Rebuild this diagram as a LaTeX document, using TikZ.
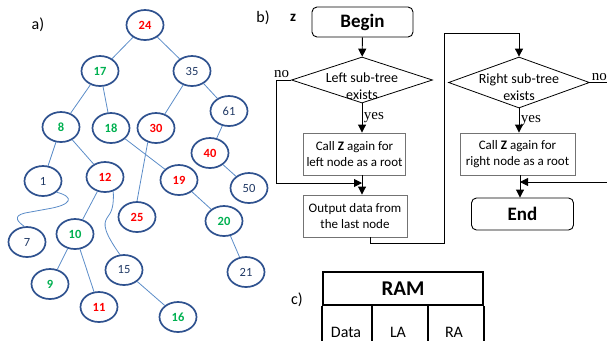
\documentclass[tikz,border=0pt]{standalone}
\usepackage{fontspec}
\setmainfont{Carlito}
\newfontfamily\yesnofont{Liberation Serif}
\usetikzlibrary{shapes.geometric, arrows.meta}
\definecolor{ringblue}{RGB}{47,82,143}
\definecolor{edgeblue}{RGB}{91,140,200}
\definecolor{numblue}{RGB}{31,56,100}
\definecolor{numgreen}{RGB}{0,176,80}
\definecolor{numred}{RGB}{255,0,0}

\begin{document}
\begin{tikzpicture}[x=1pt, y=-1pt, >={Triangle[length=8pt, width=8pt]},
    vertex/.style={ellipse, draw=ringblue, line width=1.7pt, minimum width=37pt, minimum height=30pt, inner sep=0pt, font=\fontsize{12.5}{14}\selectfont},
    rv/.style={vertex, text=numred, font=\fontsize{12.5}{14}\selectfont\bfseries},
    gv/.style={vertex, text=numgreen, font=\fontsize{12.5}{14}\selectfont\bfseries},
    bv/.style={vertex, text=numblue},
    branch/.style={draw=edgeblue, line width=0.8pt},
    terminal/.style={draw, rounded corners=5pt, line width=0.9pt, minimum width=101pt, minimum height=30pt, font=\fontsize{19}{22}\selectfont\bfseries},
    process/.style={draw=black!55, line width=0.9pt, minimum height=42pt, align=center, font=\fontsize{13}{15.5}\selectfont},
    decision/.style={diamond, draw, line width=0.8pt, inner sep=0pt, minimum width=141pt},
    dtext/.style={align=center, font=\fontsize{14}{17}\selectfont},
    yn/.style={font=\yesnofont\fontsize{15}{17}\selectfont, inner sep=1.5pt},
    flow/.style={line width=0.9pt},
    panel/.style={font=\fontsize{16}{19}\selectfont},
    ramline/.style={line width=2.2pt}]
    \useasboundingbox (0,0) rectangle (607,341);

    % a) tree
    \node[panel] (pa) at (38,25) {a)};
    \node[rv] (n24) at (145,25) {24};
    \node[gv] (n17) at (100,71) {17};
    \node[bv] (n35) at (192,71) {35};
    \node[bv] (n61) at (229,111) {61};
    \node[gv] (n8) at (61,127) {8};
    \node[gv] (n18) at (111,128) {18};
    \node[rv] (n30) at (156,128) {30};
    \node[rv] (n40) at (210,153) {40};
    \node[bv] (n1) at (43,181) {1};
    \node[rv] (n12) at (105,177) {12};
    \node[rv] (n19) at (179,180) {19};
    \node[bv] (n50) at (249,188) {50};
    \node[rv] (n25) at (137,217) {25};
    \node[gv] (n20) at (224,221) {20};
    \node[bv] (n7) at (27,242) {7};
    \node[gv] (n10) at (75,234) {10};
    \node[bv] (n15) at (124,270) {15};
    \node[bv] (n21) at (246,272) {21};
    \node[gv] (n9) at (50,284) {9};
    \node[rv] (n11) at (99,307) {11};
    \node[gv] (n16) at (178,317) {16};

    \path[branch]
    (n24) edge (n17)
    (n24) edge (n35)
    (n17) edge (n8)
    (n17) edge (n18)
    (n35) edge (n30)
    (n35) edge (n61)
    (n61) edge (n40)
    (n40) edge (n50)
    (n8) edge (n1)
    (n8) edge (n12)
    (n18) edge (n19)
    (n19) edge (n20)
    (n20) edge (n21)
    (n12) edge (n10)
    (n10) edge (n9)
    (n10) edge (n11)
    (n15) edge (n16);
    \draw[branch] (n30.-120) -- (n25.north);
    \draw[branch] (n1.south east) .. controls (75,197) and (72,205) .. (47,209)
        -- (25,213) .. controls (12,216) and (18,222) .. (n7.100);
    \draw[branch] (n12.-60) .. controls (114,205) and (112,212) .. (107,218)
        .. controls (103,224) and (104,232) .. (n15.105);

    % b) flowchart
    \node[panel] (pb) at (263,18) {b)};
    \node[font=\fontsize{15}{17}\selectfont\bfseries] (z) at (293,18) {z};
    \node[terminal] (begin) at (362.5,22) {Begin};
    \node[decision, minimum height=46pt,
        label={[dtext, yshift=-6pt]center:Left sub-tree\\exists}] (d1) at (362,80) {};
    \node[process, minimum width=101pt] (call1) at (354.5,154) {Call \textbf{Z} again for\\left node as a root};
    \node[process, minimum width=104pt] (out) at (355,216) {Output data from\\the last node};
    \node[decision, minimum height=51pt,
        label={[dtext, yshift=-5pt]center:Right sub-tree\\exists}] (d2) at (519,82.5) {};
    \node[process, minimum width=115pt] (call2) at (517.5,154) {Call \textbf{Z} again for\\right node as a root};
    \node[terminal, minimum width=102pt, minimum height=32pt] (end) at (522.5,214) {End};

    \coordinate (j1) at (362,183);
    \coordinate (lpb) at (444,243);
    \coordinate (lpt) at (444,33);
    \coordinate (j2) at (520,182);
    \coordinate (r1) at (607,82.5);
    \coordinate (r2) at (607,182);

    \draw[flow, ->] (begin) -- (d1);
    \draw[flow, ->] (d1.south) -- (d1.south |- call1.north) node[midway, right, yn] {yes};
    \draw[flow] (d1.south |- call1.south) -- (j1);
    \draw[flow, ->] (j1) -- (d1.south |- out.north);
    \draw[flow, ->] (d1.west) node[above left, yn] {no} -- ++(-15,0) |- (j1);
    \draw[flow, ->] ([xshift=15pt]out.south) |- (lpb) -- (lpt) -| (d2.north);
    \draw[flow, ->] (d2.south) -- (d2.south |- call2.north) node[midway, right, yn] {yes};
    \draw[flow] (j2 |- call2.south) -- (j2);
    \draw[flow, ->] (j2) -- (j2 |- end.north);
    \draw[flow] (d2.east) node[above right, yn] {no} -- (r1);
    \draw[flow, ->] (r2) -- (j2);

    % c) memory cell
    \node[panel] (pc) at (297,300) {c)};
    \node[draw, ramline, minimum width=160pt, minimum height=33pt, font=\fontsize{21}{24}\selectfont\bfseries] (ram) at (403,288.5) {RAM};
    \node[font=\fontsize{16}{19}\selectfont] (data) at (346,332) {Data};
    \node[font=\fontsize{16}{19}\selectfont] (la) at (398,332) {LA};
    \node[font=\fontsize{16}{19}\selectfont] (ra) at (454,332) {RA};
    \draw[ramline] (ram.south west) -- (ram.south west |- 0,341);
    \draw[ramline] (372,305) -- (372,341);
    \draw[ramline] (428,305) -- (428,341);
    \draw[ramline] (ram.south east) -- (ram.south east |- 0,341);
\end{tikzpicture}
\end{document}
